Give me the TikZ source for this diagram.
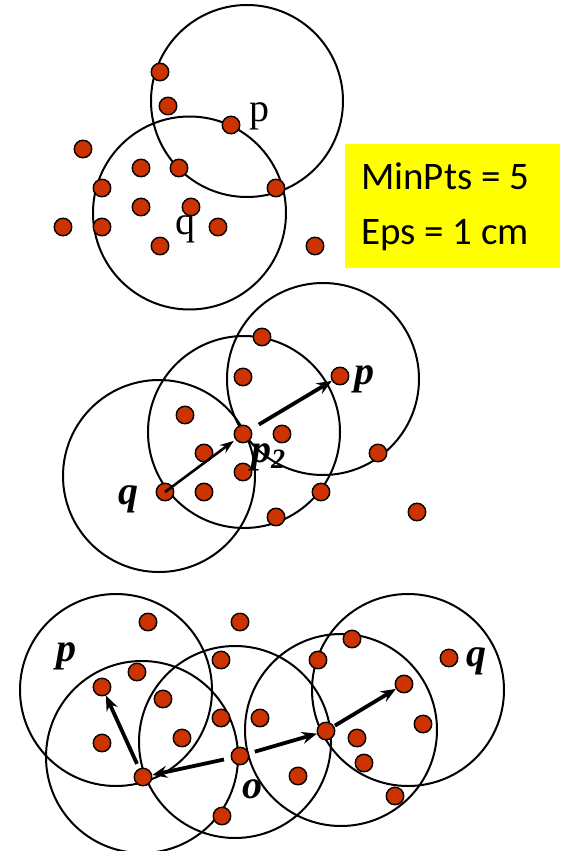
\documentclass[tikz,border=0pt]{standalone}
\usepackage{fontspec}
\setmainfont{Liberation Serif}
\newfontfamily\calfont{Carlito}
\usetikzlibrary{arrows.meta}
\definecolor{dotred}{HTML}{CC3300}
\definecolor{boxyellow}{HTML}{FFFF00}
\tikzset{
  pt/.style={circle,draw=black,fill=dotred,line width=1.4pt,minimum size=17.5pt,inner sep=0pt},
  ring/.style={draw=black,line width=2pt},
  lbl/.style={anchor=base west,inner sep=0pt,font=\fontsize{40}{40}\selectfont},
  blbl/.style={anchor=base west,inner sep=0pt,font=\fontsize{40}{40}\selectfont\bfseries\itshape},
  boxtext/.style={anchor=base west,inner sep=0pt,font=\calfont\fontsize{39}{39}\selectfont},
  thinarr/.style={line width=2.6pt,-{Stealth[length=14pt,width=10pt,inset=5pt]}},
  thickarr/.style={line width=3.8pt,-{Stealth[length=15pt,width=12pt,inset=5pt]}},
}
\begin{document}
\begin{tikzpicture}[x=1pt,y=-1pt]
\useasboundingbox (0,0) rectangle (566,851);
\fill[white] (0,0) rectangle (566,851);

% ---------- top panel ----------
\draw[ring] (247,101) circle[radius=96pt];
\draw[ring] (189.5,213) circle[radius=96.5pt];
\node[pt] (t1) at (160,72) {};
\node[pt] (t2) at (168,106) {};
\node[pt] (tp) at (231,125) {};
\node[pt] (t4) at (83,149) {};
\node[pt] (t5) at (141,168) {};
\node[pt] (t6) at (179,168) {};
\node[pt] (t7) at (102,188) {};
\node[pt] (t8) at (276,188) {};
\node[pt] (t9) at (141,207) {};
\node[pt] (t10) at (191,207) {};
\node[pt] (t11) at (63,227) {};
\node[pt] (t12) at (102,227) {};
\node[pt] (t13) at (218,227) {};
\node[pt] (t14) at (160,246) {};
\node[pt] (t15) at (315,246) {};
\node[lbl] (tlp) at (249,121) {p};
\node[lbl] (tlq) at (175,234) {q};

% yellow box
\fill[boxyellow] (345,144) rectangle (560,268);
\node[boxtext] (minpts) at (361,189) {MinPts = 5};
\node[boxtext] (eps) at (361,244) {Eps = 1 cm};

% ---------- middle panel ----------
\draw[ring] (159,476) circle[radius=96pt];
\draw[ring] (244,432) circle[radius=96pt];
\draw[ring] (323,379) circle[radius=96pt];
\node[pt] (m1) at (262,337) {};
\node[pt] (m2) at (243,377) {};
\node[pt] (mp) at (340,376) {};
\node[pt] (m4) at (185,415) {};
\node[pt] (mp2) at (243,434) {};
\node[pt] (m6) at (282,434) {};
\node[pt] (m7) at (204,453) {};
\node[pt] (m8) at (378,453) {};
\node[pt] (m9) at (243,472) {};
\node[pt] (mq) at (165,492) {};
\node[pt] (m11) at (204,492) {};
\node[pt] (m12) at (321,492) {};
\node[pt] (m13) at (276,517) {};
\node[pt] (m14) at (417,512) {};
\draw[thinarr,shorten >=2pt] (mq.center) -- (mp2);
\draw[thickarr,shorten <=9pt] (mp2) -- (mp);
\node[blbl] (mlp) at (354,384) {p};
\node[blbl] (mlp2) at (251,462) {p\raisebox{-6pt}{\fontsize{28}{28}\selectfont 2}};
\node[blbl] (mlq) at (118,504) {q};

% ---------- bottom panel ----------
\draw[ring] (116,690) circle[radius=96pt];
\draw[ring] (142,757) circle[radius=96pt];
\draw[ring] (235,742) circle[radius=96pt];
\draw[ring] (341,730) circle[radius=96pt];
\draw[ring] (408,690) circle[radius=96pt];
\node[pt] (b1) at (148,622) {};
\node[pt] (b2) at (240,622) {};
\node[pt] (b3) at (221,660) {};
\node[pt] (b4) at (137,672) {};
\node[pt] (bp) at (102,687) {};
\node[pt] (b6) at (163,699) {};
\node[pt] (b7) at (221,718) {};
\node[pt] (b8) at (260,718) {};
\node[pt] (b9) at (102,743) {};
\node[pt] (b10) at (182,738) {};
\node[pt] (bo) at (240,756) {};
\node[pt] (bc) at (143,777) {};
\node[pt] (b13) at (222,816) {};
\node[pt] (b14) at (352,639) {};
\node[pt] (b15) at (318,660) {};
\node[pt] (bq) at (449,658) {};
\node[pt] (b17) at (404,684) {};
\node[pt] (b18) at (423,724) {};
\node[pt] (bd) at (326,731) {};
\node[pt] (b20) at (357,738) {};
\node[pt] (b21) at (364,763) {};
\node[pt] (b22) at (298,776) {};
\node[pt] (b23) at (395,796) {};
\draw[thickarr,shorten <=5pt] (bc) -- (bp);
\draw[thickarr,shorten <=7pt] (bo) -- (bc);
\draw[thickarr,shorten <=6pt] (bo) -- (bd);
\draw[thickarr,shorten <=1pt] (bd) -- (b17);
\node[blbl] (blp) at (56,661) {p};
\node[blbl] (blo) at (242,798) {o};
\node[blbl] (blq) at (466,666) {q};
\end{tikzpicture}
\end{document}
